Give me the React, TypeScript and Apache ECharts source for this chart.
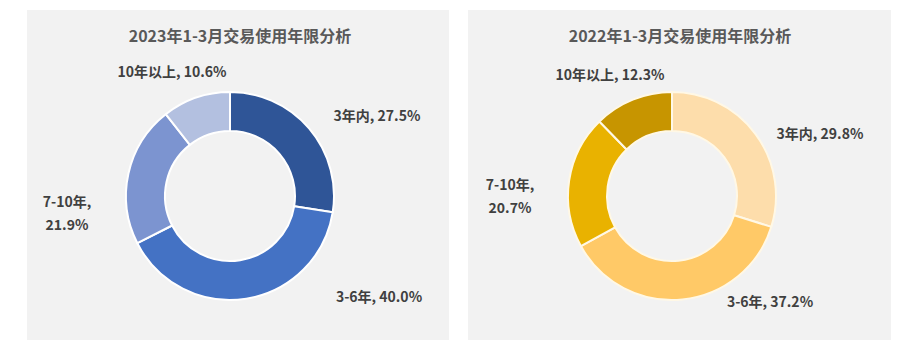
import React, { useEffect, useRef } from "react";
import * as echarts from "echarts";

const categories = ["3年内", "3-6年", "7-10年", "10年以上"];
const values2023 = [27.5, 40.0, 21.9, 10.6];
const values2022 = [29.8, 37.2, 20.7, 12.3];
const titles = ["2023年1-3月交易使用年限分析", "2022年1-3月交易使用年限分析"];

const colors2023 = ["#2F5597", "#4472C4", "#7C94D0", "#B3C0E0"];
const colors2022 = ["#FDDDAB", "#FFC967", "#E9B200", "#C79500"];

// label centres (offsets from pie centre)
const labelOffsets = [
  [[147, -81], [149, 100], [-163, 16], [-58, -125]],
  [[148, -63], [98, 105], [-162, -1], [-62, -122]],
];

const centers = [[230, 196], [672, 196]];

export default function App() {
  const ref = useRef<HTMLDivElement>(null);
  useEffect(() => {
    const chart = echarts.init(ref.current!, undefined, { renderer: "svg" });
    const mkSeries = (idx: number, vals: number[], cols: string[], border: string) => ({
      type: "pie",
      center: centers[idx],
      radius: [65, 104],
      startAngle: 90,
      clockwise: true,
      avoidLabelOverlap: false,
      itemStyle: { borderColor: border, borderWidth: 2 },
      label: {
        show: true,
        position: "outside",
        color: "#404040",
        fontSize: 14,
        fontWeight: "bold",
        fontFamily: "'Noto Sans CJK SC', 'Noto Sans', sans-serif",
        lineHeight: 23,
        align: "center",
        formatter: (p: any) =>
          p.dataIndex === 2
            ? `${p.name},\n${p.value.toFixed(1)}%`
            : `${p.name}, ${p.value.toFixed(1)}%`,
      },
      labelLine: { show: false },
      labelLayout: (p: any) => {
        const off = labelOffsets[idx][p.dataIndex];
        return {
          x: centers[idx][0] + off[0],
          y: centers[idx][1] + off[1],
          align: "center",
          verticalAlign: "middle",
        };
      },
      data: categories.map((c, i) => ({
        name: c,
        value: vals[i],
        itemStyle: { color: cols[i] },
      })),
    });
    chart.setOption({
      animation: false,
      backgroundColor: "#ffffff",
      title: titles.map((t, i) => ({
        text: t,
        left: i === 0 ? 235 : 675,
        top: 22,
        textAlign: "center",
        textStyle: {
          color: "#595959",
          fontSize: 16,
          fontWeight: "bold",
          fontFamily: "'Noto Sans CJK SC', sans-serif",
        },
      })),
      graphic: [
        { type: "rect", z: -10, shape: { x: 27, y: 10, width: 422, height: 330 }, style: { fill: "#F2F2F2" } },
        { type: "rect", z: -10, shape: { x: 468, y: 10, width: 423, height: 330 }, style: { fill: "#F2F2F2" } },
      ],
      series: [
        mkSeries(0, values2023, colors2023, "#ffffff"),
        mkSeries(1, values2022, colors2022, "#FFF8E6"),
      ],
    });
    return () => chart.dispose();
  }, []);
  return (
    <div
      ref={ref}
      style={{ position: "fixed", left: 0, top: 0, width: 910, height: 355 }}
    />
  );
}
